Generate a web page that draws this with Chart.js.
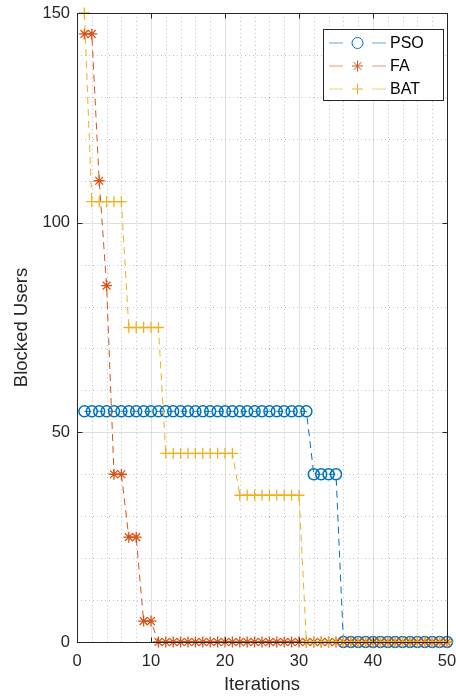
<!DOCTYPE html>
<html>
<head>
<meta charset="utf-8">
<script src="https://cdn.jsdelivr.net/npm/chart.js@4.4.0/dist/chart.umd.min.js"></script>
<style>
  html, body { margin: 0; padding: 0; background: #fff; }
  #wrap { width: 456px; height: 696px; }
</style>
</head>
<body>
<div id="wrap"><canvas id="chart" width="456" height="696"></canvas></div>
<script>
// data
const iterations = [1, 2, 3, 4, 5, 6, 7, 8, 9, 10, 11, 12, 13, 14, 15, 16, 17, 18, 19, 20,
  21, 22, 23, 24, 25, 26, 27, 28, 29, 30, 31, 32, 33, 34, 35, 36, 37, 38, 39, 40,
  41, 42, 43, 44, 45, 46, 47, 48, 49, 50];
const psoValues = [55, 55, 55, 55, 55, 55, 55, 55, 55, 55, 55, 55, 55, 55, 55, 55, 55, 55, 55, 55,
  55, 55, 55, 55, 55, 55, 55, 55, 55, 55, 55, 40, 40, 40, 40, 0, 0, 0, 0, 0,
  0, 0, 0, 0, 0, 0, 0, 0, 0, 0];
const faValues = [145, 145, 110, 85, 40, 40, 25, 25, 5, 5, 0, 0, 0, 0, 0, 0, 0, 0, 0, 0,
  0, 0, 0, 0, 0, 0, 0, 0, 0, 0, 0, 0, 0, 0, 0, 0, 0, 0, 0, 0,
  0, 0, 0, 0, 0, 0, 0, 0, 0, 0];
const batValues = [150, 105, 105, 105, 105, 105, 75, 75, 75, 75, 75, 45, 45, 45, 45, 45, 45, 45, 45, 45,
  45, 35, 35, 35, 35, 35, 35, 35, 35, 35, 0, 0, 0, 0, 0, 0, 0, 0, 0, 0,
  0, 0, 0, 0, 0, 0, 0, 0, 0, 0];
const seriesLabels = ['PSO', 'FA', 'BAT'];
const xTicks = [0, 10, 20, 30, 40, 50];
const yTicks = [0, 50, 100, 150];

const axisColor = '#262626';
const colors = ['#0072BD', '#D95319', '#EDB120'];
const markers = ['circle', 'star', 'cross'];
const fontFamily = '"Liberation Sans", Arial, sans-serif';

function toPoints(values) {
  return values.map((v, i) => ({ x: iterations[i], y: v }));
}

// grid + box drawn with the scales, MATLAB look
const axesBox = {
  id: 'axesBox',
  beforeDatasetsDraw(chart) {
    const { ctx, chartArea: a, scales: { x, y } } = chart;
    ctx.save();
    ctx.lineWidth = 1;
    // minor dotted grid
    ctx.strokeStyle = 'rgba(38,38,38,0.28)';
    ctx.setLineDash([1, 3]);
    for (let v = 2; v < 50; v += 2) {
      if (v % 10 === 0) continue;
      const px = Math.round(x.getPixelForValue(v)) + 0.5;
      ctx.beginPath(); ctx.moveTo(px, a.top); ctx.lineTo(px, a.bottom); ctx.stroke();
    }
    for (let v = 10; v < 150; v += 10) {
      if (v % 50 === 0) continue;
      const py = Math.round(y.getPixelForValue(v)) + 0.5;
      ctx.beginPath(); ctx.moveTo(a.left, py); ctx.lineTo(a.right, py); ctx.stroke();
    }
    // major grid
    ctx.setLineDash([]);
    ctx.strokeStyle = 'rgba(38,38,38,0.14)';
    xTicks.slice(1, -1).forEach(v => {
      const px = Math.round(x.getPixelForValue(v)) + 0.5;
      ctx.beginPath(); ctx.moveTo(px, a.top); ctx.lineTo(px, a.bottom); ctx.stroke();
    });
    yTicks.slice(1, -1).forEach(v => {
      const py = Math.round(y.getPixelForValue(v)) + 0.5;
      ctx.beginPath(); ctx.moveTo(a.left, py); ctx.lineTo(a.right, py); ctx.stroke();
    });
    ctx.restore();
  },
  afterDatasetsDraw(chart) {
    const { ctx, chartArea: a, scales: { x, y } } = chart;
    const l = Math.round(a.left) + 0.5, r = Math.round(a.right) + 0.5;
    const t = Math.round(a.top) + 0.5, b = Math.round(a.bottom) + 0.5;
    ctx.save();
    ctx.strokeStyle = axisColor;
    ctx.lineWidth = 1;
    ctx.strokeRect(l, t, r - l, b - t);
    const tl = 5;
    xTicks.forEach(v => {
      const px = Math.round(x.getPixelForValue(v)) + 0.5;
      ctx.beginPath();
      ctx.moveTo(px, b); ctx.lineTo(px, b - tl);
      ctx.moveTo(px, t); ctx.lineTo(px, t + tl);
      ctx.stroke();
    });
    yTicks.forEach(v => {
      const py = Math.round(y.getPixelForValue(v)) + 0.5;
      ctx.beginPath();
      ctx.moveTo(l, py); ctx.lineTo(l + tl, py);
      ctx.moveTo(r, py); ctx.lineTo(r - tl, py);
      ctx.stroke();
    });
    ctx.restore();
  }
};

// MATLAB-style legend box in the top right corner
const matLegend = {
  id: 'matLegend',
  afterDraw(chart) {
    const { ctx } = chart;
    const bx = 323.5, by = 29.5, bw = 120, bh = 71;
    ctx.save();
    ctx.fillStyle = '#fff';
    ctx.fillRect(bx, by, bw, bh);
    ctx.strokeStyle = axisColor;
    ctx.lineWidth = 1;
    ctx.strokeRect(bx, by, bw, bh);
    chart.data.datasets.forEach((ds, i) => {
      const cy = 43 + i * 23;
      ctx.strokeStyle = ds.borderColor;
      ctx.globalAlpha = 0.6;
      ctx.lineWidth = 1;
      ctx.beginPath();
      ctx.moveTo(329, cy); ctx.lineTo(343, cy);
      ctx.moveTo(372, cy); ctx.lineTo(386, cy);
      ctx.stroke();
      ctx.globalAlpha = 1;
      Chart.helpers.drawPoint(ctx, {
        pointStyle: ds.pointStyle, radius: ds.pointRadius, rotation: 0,
        borderWidth: ds.pointBorderWidth
      }, 357.5, cy);
      ctx.fillStyle = '#000';
      ctx.font = '16px ' + fontFamily;
      ctx.textBaseline = 'middle';
      ctx.textAlign = 'left';
      ctx.fillText(ds.label, 390, cy + 1);
    });
    ctx.restore();
  }
};

const datasets = [psoValues, faValues, batValues].map((vals, i) => ({
  label: seriesLabels[i],
  data: toPoints(vals),
  borderColor: colors[i],
  backgroundColor: 'rgba(0,0,0,0)',
  borderWidth: 1,
  borderDash: [7, 5],
  tension: 0,
  pointStyle: markers[i],
  pointRadius: 5.5,
  pointBorderWidth: i === 0 ? 1.5 : 1.3,
  pointBorderColor: colors[i],
  pointBackgroundColor: 'rgba(0,0,0,0)',
  clip: false,
  order: 2 - i
}));

const tickFont = { family: fontFamily, size: 16.5 };
const titleFont = { family: fontFamily, size: 18.5 };

new Chart(document.getElementById('chart'), {
  type: 'line',
  data: { datasets },
  plugins: [axesBox, matLegend],
  options: {
    responsive: false,
    animation: false,
    devicePixelRatio: 1,
    layout: { padding: { top: 13, right: 9, left: 0, bottom: 0 } },
    plugins: { legend: { display: false }, tooltip: { enabled: false } },
    scales: {
      x: {
        type: 'linear',
        min: 0, max: 50,
        afterBuildTicks: s => { s.ticks = xTicks.map(v => ({ value: v })); },
        afterFit: s => { s.height = 54; s.paddingLeft = 0; s.paddingRight = 0; },
        grid: { display: false, drawTicks: false },
        border: { display: false },
        ticks: { font: tickFont, color: axisColor, padding: 10, maxRotation: 0 },
        title: { display: true, text: 'Iterations', font: titleFont, color: axisColor, padding: { top: 0, bottom: 0 } }
      },
      y: {
        type: 'linear',
        min: 0, max: 150,
        afterBuildTicks: s => { s.ticks = yTicks.map(v => ({ value: v })); },
        afterFit: s => { s.width = 77; s.paddingTop = 0; s.paddingBottom = 0; },
        grid: { display: false, drawTicks: false },
        border: { display: false },
        ticks: { font: tickFont, color: axisColor, padding: 7 },
        title: { display: true, text: 'Blocked Users', font: titleFont, color: axisColor, padding: { top: 11, bottom: 0 } }
      }
    }
  }
});
</script>
</body>
</html>
